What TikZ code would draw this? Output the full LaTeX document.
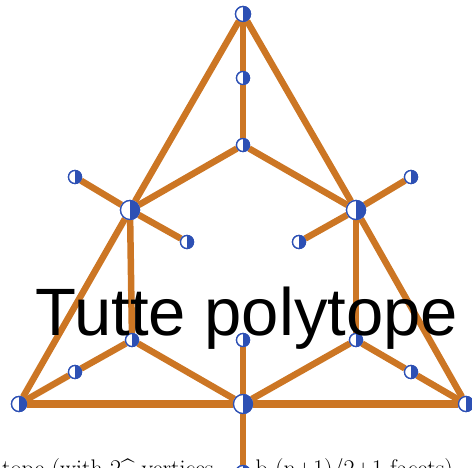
\documentclass[tikz,border=0pt]{standalone}
\usepackage{fontspec}
\newfontfamily\labelfont{Liberation Sans}
\definecolor{edgec}{RGB}{204,118,36}
\definecolor{vblue}{RGB}{45,80,180}
\begin{document}
\begin{tikzpicture}[x=1pt,y=-1pt,
  edge/.style={draw=edgec,line width=6.5pt},
  baseedge/.style={draw=edgec,line width=8.5pt},
  vtx/.style={circle,draw=vblue,line width=1.3pt,fill=white,inner sep=0pt,minimum size=#1,
    path picture={\fill[vblue] (path picture bounding box.north) rectangle (path picture bounding box.south east);}},
  vtx/.default=13pt]
\useasboundingbox (0,0) rectangle (472,468);
\clip (0,0) rectangle (472,468);
% vertices
\node[vtx=15pt] (T) at (243,14) {};
\node[vtx] (T2) at (243,78) {};
\node[vtx] (T3) at (243,145) {};
\node[vtx=19pt] (L) at (130,210) {};
\node[vtx=19pt] (R) at (356,210) {};
\node[vtx] (La) at (75,177) {};
\node[vtx] (Lb) at (187,242) {};
\node[vtx] (Ra) at (411,177) {};
\node[vtx] (Rb) at (299,242) {};
\node[vtx=15pt] (BL) at (19,404) {};
\node[vtx=15pt] (BR) at (466,404) {};
\node[vtx=19pt] (BM) at (243,404) {};
\node[vtx] (LL) at (132,340) {};
\node[vtx] (Lm) at (75,372) {};
\node[vtx] (RR) at (356,340) {};
\node[vtx] (Rm) at (411,372) {};
\node[vtx] (M) at (243,340) {};
\node[vtx=15pt] (B) at (243,473) {};
% edges
\path[edge] (T) -- (T2) -- (T3);
\path[edge] (T) -- (L) -- (BL);
\path[edge] (T) -- (R) -- (BR);
\path[edge] (T3) -- (L);
\path[edge] (T3) -- (R);
\path[edge] (L) -- (La);
\path[edge] (L) -- (Lb);
\path[edge] (R) -- (Ra);
\path[edge] (R) -- (Rb);
\path[edge] (L) -- (LL);
\path[edge] (R) -- (RR);
\path[edge] (LL) -- (Lm) -- (BL);
\path[edge] (LL) -- (BM);
\path[edge] (RR) -- (Rm) -- (BR);
\path[edge] (RR) -- (BM);
\path[edge] (BM) -- (M);
\path[edge] (BM) -- (B);
\path[baseedge] (BL) -- (BM) -- (BR);
% caption (cut off at the lower edge, as in the reference)
\node[anchor=base west,inner sep=0pt,font=\fontsize{24}{24}\selectfont] (caption) at (2,476) {tope (with 2\^{} vertices\hspace{42pt}b (n+1)/2+1 facets)};
% vertices on top of the edges
\foreach \n/\s in {T/15pt,T2/13pt,T3/13pt,L/19pt,R/19pt,La/13pt,Lb/13pt,Ra/13pt,Rb/13pt,BL/15pt,BR/15pt,BM/19pt,LL/13pt,Lm/13pt,RR/13pt,Rm/13pt,M/13pt,B/15pt}
  \node[vtx=\s] at (\n) {};
% title
\node[anchor=base,inner sep=0pt,font=\labelfont\fontsize{67}{67}\selectfont] (title) at (247,335) {Tutte polytope};
\end{tikzpicture}
\end{document}
